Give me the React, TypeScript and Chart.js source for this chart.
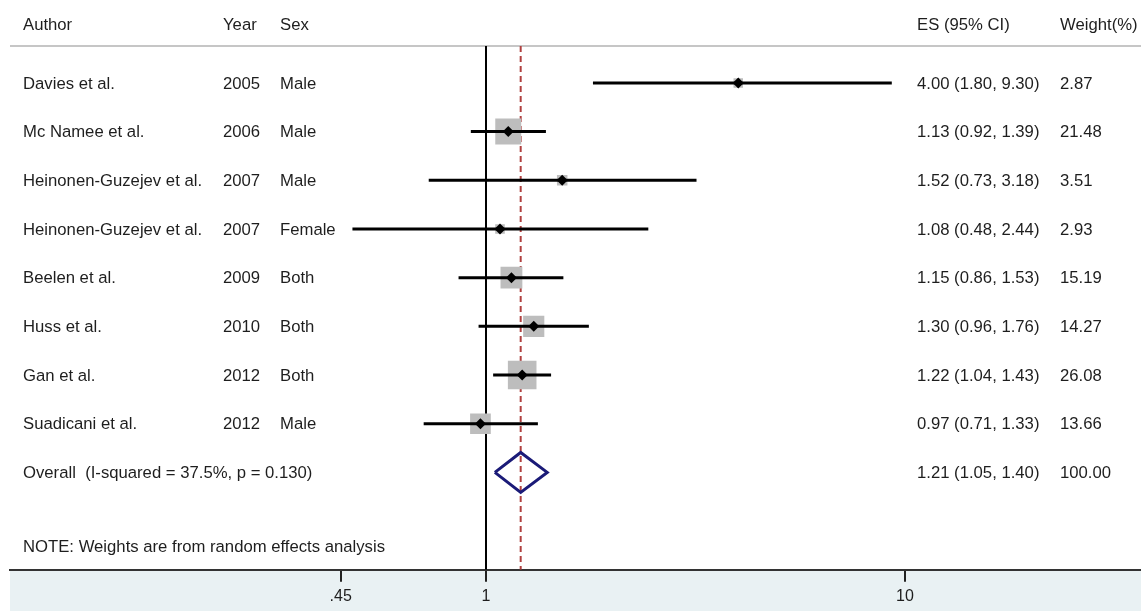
import React, { useEffect, useRef } from 'react';
import { Chart, registerables } from 'chart.js';

Chart.register(...registerables);

// ---------- data ----------
const headers = ['Author', 'Year', 'Sex', 'ES (95% CI)', 'Weight(%)'];
const authors = [
  'Davies et al.',
  'Mc Namee et al.',
  'Heinonen-Guzejev et al.',
  'Heinonen-Guzejev et al.',
  'Beelen et al.',
  'Huss et al.',
  'Gan et al.',
  'Suadicani et al.',
];
const years = ['2005', '2006', '2007', '2007', '2009', '2010', '2012', '2012'];
const sexes = ['Male', 'Male', 'Male', 'Female', 'Both', 'Both', 'Both', 'Male'];
const es = [4.0, 1.13, 1.52, 1.08, 1.15, 1.3, 1.22, 0.97];
const lower = [1.8, 0.92, 0.73, 0.48, 0.86, 0.96, 1.04, 0.71];
const upper = [9.3, 1.39, 3.18, 2.44, 1.53, 1.76, 1.43, 1.33];
const weights = [2.87, 21.48, 3.51, 2.93, 15.19, 14.27, 26.08, 13.66];

const overallLabel = 'Overall  (I-squared = 37.5%, p = 0.130)';
const overallES = 1.21;
const overallLower = 1.05;
const overallUpper = 1.4;
const overallWeight = 100.0;
const noteText = 'NOTE: Weights are from random effects analysis';

const tickValues = [0.45, 1, 10];
const tickLabels = ['.45', '1', '10'];

// ---------- layout / style ----------
const X_MIN = 0.07311;
const X_MAX = 36.58;
const Y_MIN = 0.242;
const Y_MAX = 11.0;
const HEADER_ROW = -0.19;
const NOTE_ROW = 10.55;
const OVERALL_ROW = authors.length + 1;
const DIAMOND_HALF = 0.41;
const SQUARE_SCALE = 5.6;
const FONT = '"Liberation Sans", Arial, Helvetica, sans-serif';
const TEXT_COLOR = '#1e1e1e';
const COL_X = [23, 223, 280, 917, 1060];

const fmt = (v: number) => v.toFixed(2);

const textPlugin = {
  id: 'forestText',
  beforeDraw(chart: any) {
    const { ctx, chartArea, height } = chart;
    ctx.save();
    ctx.fillStyle = '#e9f1f3';
    ctx.fillRect(chartArea.left, chartArea.bottom, chartArea.right - chartArea.left, height - chartArea.bottom);
    ctx.restore();
  },
  beforeDatasetsDraw(chart: any) {
    const { ctx, chartArea } = chart;
    ctx.save();
    ctx.strokeStyle = '#c6c6c6';
    ctx.lineWidth = 2;
    ctx.beginPath();
    ctx.moveTo(chartArea.left, chartArea.top);
    ctx.lineTo(chartArea.right, chartArea.top);
    ctx.stroke();
    ctx.restore();
  },
  afterDraw(chart: any) {
    const { ctx } = chart;
    const ys = chart.scales.y;
    ctx.save();
    ctx.font = `16.7px ${FONT}`;
    ctx.fillStyle = TEXT_COLOR;
    ctx.textBaseline = 'middle';
    ctx.textAlign = 'left';
    const hy = ys.getPixelForValue(HEADER_ROW);
    headers.forEach((h, i) => ctx.fillText(h, COL_X[i], hy));
    authors.forEach((a, i) => {
      const y = ys.getPixelForValue(i + 1) + 1;
      ctx.fillText(a, COL_X[0], y);
      ctx.fillText(years[i], COL_X[1], y);
      ctx.fillText(sexes[i], COL_X[2], y);
      ctx.fillText(`${fmt(es[i])} (${fmt(lower[i])}, ${fmt(upper[i])})`, COL_X[3], y);
      ctx.fillText(fmt(weights[i]), COL_X[4], y);
    });
    const oy = ys.getPixelForValue(OVERALL_ROW) + 1;
    ctx.fillText(overallLabel, COL_X[0], oy);
    ctx.fillText(`${fmt(overallES)} (${fmt(overallLower)}, ${fmt(overallUpper)})`, COL_X[3], oy);
    ctx.fillText(fmt(overallWeight), COL_X[4], oy);
    ctx.fillText(noteText, COL_X[0], ys.getPixelForValue(NOTE_ROW));
    ctx.restore();
  },
};

export default function App() {
  const ref = useRef<HTMLCanvasElement | null>(null);

  useEffect(() => {
    if (!ref.current) return;
    const rows = authors.map((_, i) => i + 1);

    const ciDatasets = rows.map((r, i) => ({
      type: 'scatter' as const,
      label: `ci-${i}`,
      data: [
        { x: lower[i], y: r },
        { x: upper[i], y: r },
      ],
      showLine: true,
      borderColor: '#000',
      borderWidth: 3,
      pointRadius: 0,
      order: 4,
    }));

    const chart = new Chart(ref.current, {
      type: 'scatter',
      data: {
        datasets: [
          {
            label: 'null',
            data: [
              { x: 1, y: Y_MIN },
              { x: 1, y: Y_MAX },
            ],
            showLine: true,
            borderColor: '#000',
            borderWidth: 2,
            pointRadius: 0,
            order: 10,
          },
          {
            label: 'pooled',
            data: [
              { x: overallES, y: Y_MIN },
              { x: overallES, y: Y_MAX },
            ],
            showLine: true,
            borderColor: '#b0403f',
            borderDash: [6, 4],
            borderWidth: 2,
            pointRadius: 0,
            order: 9,
          },
          {
            label: 'weights',
            data: rows.map((r, i) => ({ x: es[i], y: r })),
            pointStyle: 'rect',
            pointRadius: rows.map((_, i) => (SQUARE_SCALE * Math.sqrt(weights[i])) / Math.SQRT2),
            backgroundColor: '#bdbdbd',
            borderWidth: 0,
            order: 5,
          },
          ...ciDatasets,
          {
            label: 'estimates',
            data: rows.map((r, i) => ({ x: es[i], y: r })),
            pointStyle: 'rectRot',
            pointRadius: 5.5,
            backgroundColor: '#000',
            borderWidth: 0,
            order: 3,
          },
          {
            label: 'overall',
            data: [
              { x: overallLower, y: OVERALL_ROW },
              { x: overallES, y: OVERALL_ROW - DIAMOND_HALF },
              { x: overallUpper, y: OVERALL_ROW },
              { x: overallES, y: OVERALL_ROW + DIAMOND_HALF },
              { x: overallLower, y: OVERALL_ROW },
            ],
            showLine: true,
            borderColor: '#1b1b78',
            borderWidth: 3,
            borderJoinStyle: 'miter',
            pointRadius: 0,
            fill: false,
            order: 2,
          },
        ] as any,
      },
      options: {
        animation: false,
        responsive: false,
        devicePixelRatio: 1,
        events: [],
        layout: { autoPadding: false, padding: { left: 10, right: 0, top: 46, bottom: 0 } },
        plugins: {
          legend: { display: false },
          tooltip: { enabled: false },
        },
        scales: {
          x: {
            type: 'logarithmic',
            position: 'bottom',
            min: X_MIN,
            max: X_MAX,
            border: { display: true, color: '#333', width: 2 },
            grid: {
              drawOnChartArea: false,
              drawTicks: true,
              tickLength: 12,
              color: '#222',
              lineWidth: 2,
            },
            afterBuildTicks: (scale: any) => {
              scale.ticks = tickValues.map((v) => ({ value: v }));
            },
            afterFit: (scale: any) => {
              scale.paddingLeft = 0;
              scale.paddingRight = 0;
            },
            ticks: {
              autoSkip: false,
              maxRotation: 0,
              minRotation: 0,
              padding: 5,
              color: TEXT_COLOR,
              font: { family: FONT, size: 16 },
              callback: (_v: any, i: number) => tickLabels[i],
            },
          },
          y: {
            type: 'linear',
            reverse: true,
            min: Y_MIN,
            max: Y_MAX,
            display: false,
          },
        },
      } as any,
      plugins: [textPlugin],
    });

    return () => chart.destroy();
  }, []);

  return (
    <div style={{ position: 'absolute', left: 0, top: 0, width: 1141, height: 611, background: '#fff' }}>
      <canvas ref={ref} width={1141} height={611} style={{ display: 'block' }} />
    </div>
  );
}
